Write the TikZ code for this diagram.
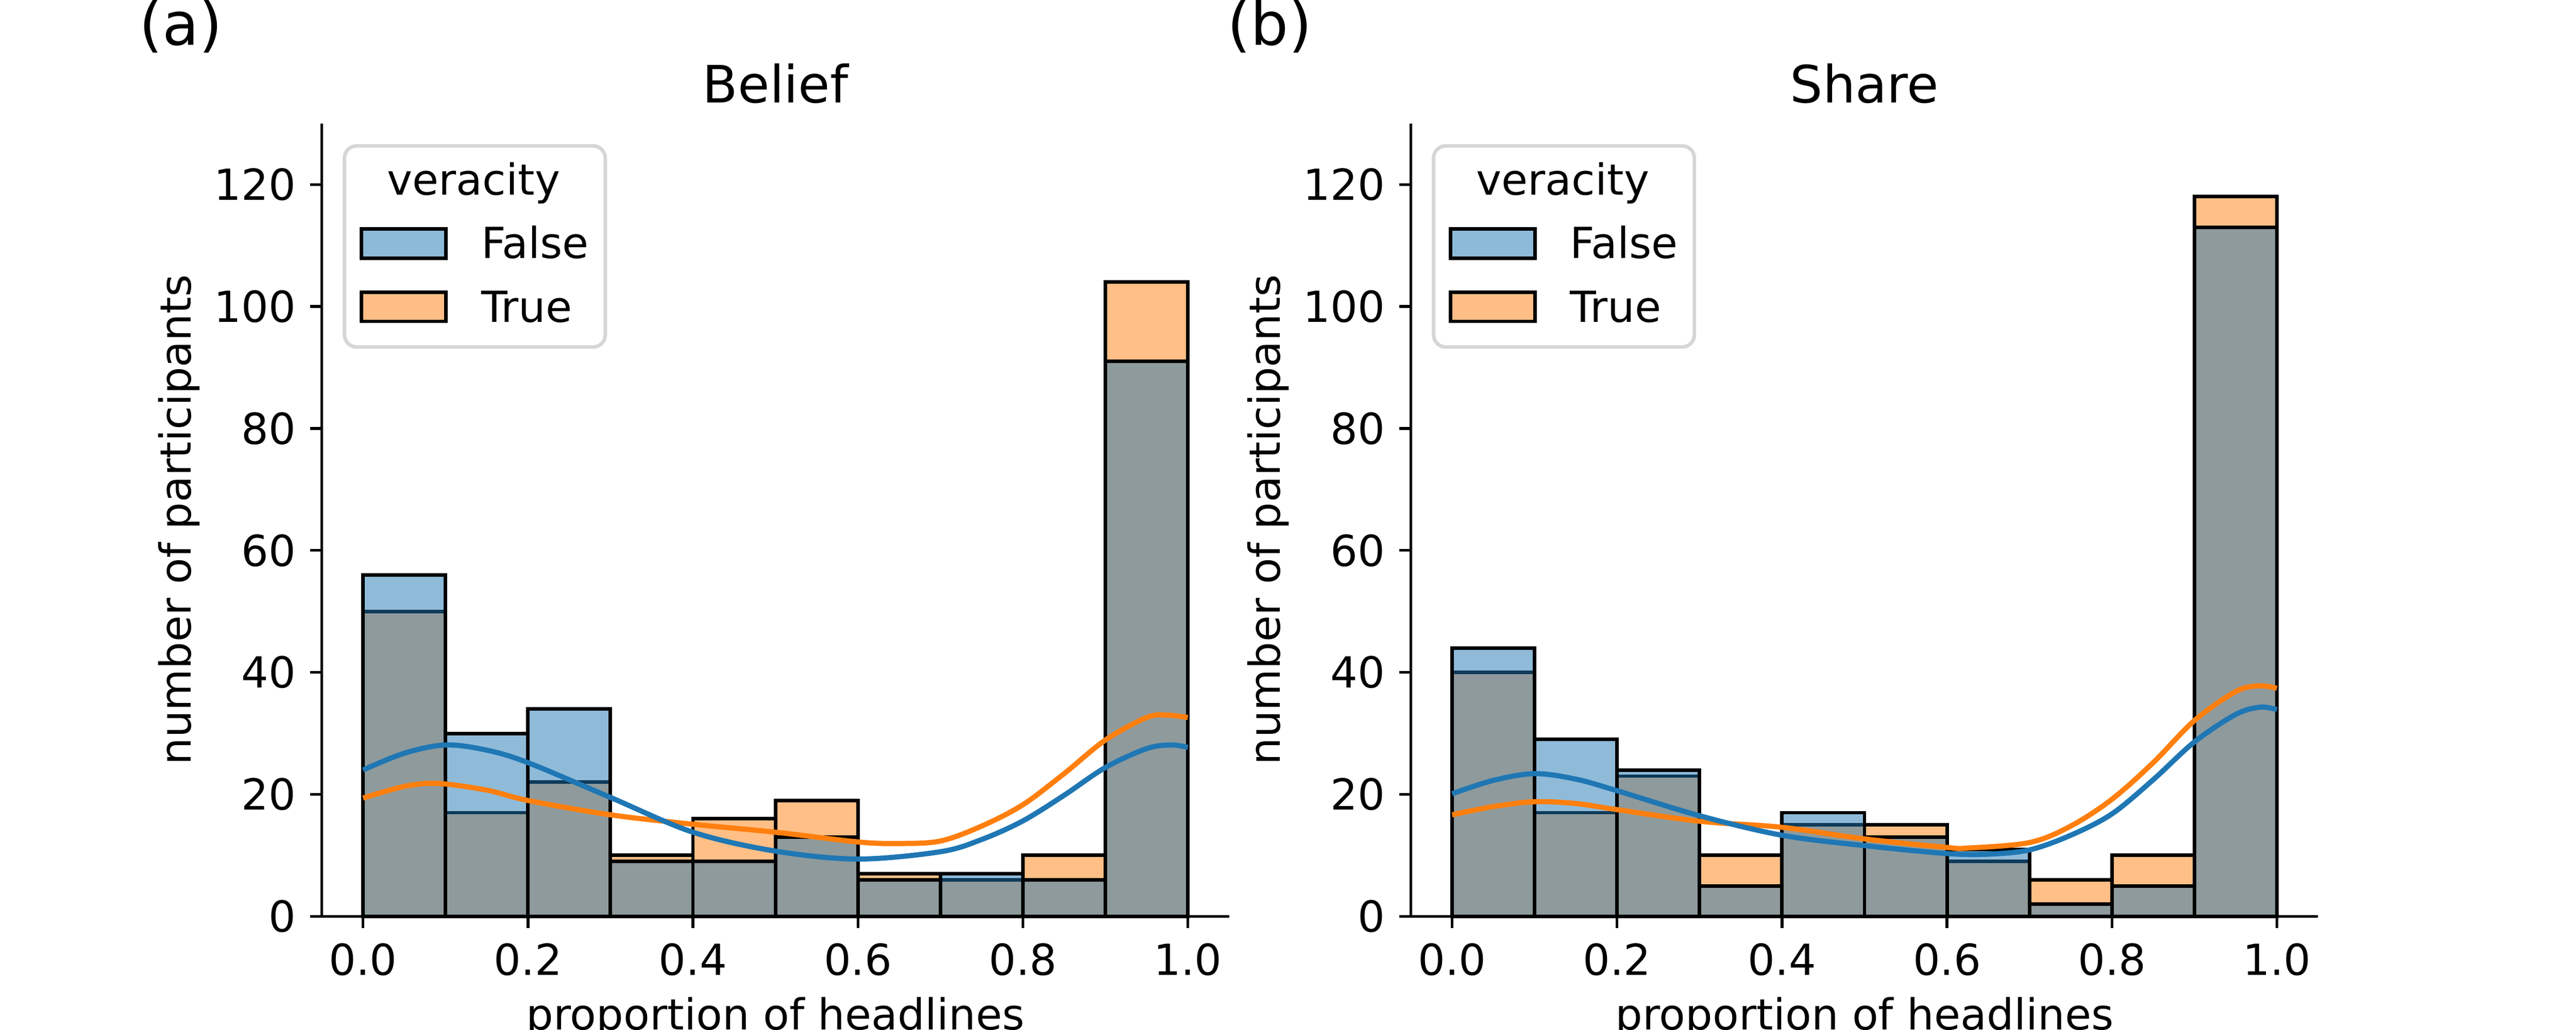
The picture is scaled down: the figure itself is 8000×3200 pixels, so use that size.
\documentclass[tikz,border=0pt]{standalone}
\usepackage{fontspec}
\setmainfont{DejaVu Sans}
\definecolor{tabblue}{HTML}{1F77B4}
\definecolor{taborange}{HTML}{FF7F0E}
\definecolor{legframe}{HTML}{D6D6D6}
\tikzset{
  falsebar/.style={draw=black, line width=1.1pt, fill=tabblue, fill opacity=0.5},
  truebar/.style={draw=black, line width=1.1pt, fill=taborange, fill opacity=0.5},
  kdefalse/.style={draw=tabblue, line width=1.6pt},
  kdetrue/.style={draw=taborange, line width=1.6pt},
  spine/.style={line width=0.85pt},
  legendframe/.style={draw=legframe, fill=white, line width=1.1pt, rounded corners=3.8pt},
  ticklabel/.style={inner sep=0pt, font=\fontsize{13.3}{16}\selectfont},
  titletext/.style={inner sep=0pt, font=\fontsize{16}{19}\selectfont},
  paneltext/.style={inner sep=0pt, font=\fontsize{18.5}{22}\selectfont}
}
\begin{document}
\begin{tikzpicture}[x=0.1pt, y=0.1pt]
    \useasboundingbox (0,0) rectangle (8000,3200);

    % (a) Belief
    \begin{scope}[shift={(112.76pt,35.3pt)}, x=256.14pt, y=1.895pt]
        \foreach \h [count=\i from 0] in {50,17,22,10,16,19,7,6,10,104}
            \draw[truebar] (\i/10,0) rectangle ({(\i+1)/10},\h);
        \foreach \h [count=\i from 0] in {56,30,34,9,9,13,6,7,6,91}
            \draw[falsebar] (\i/10,0) rectangle ({(\i+1)/10},\h);
        \draw[kdetrue] plot[smooth, tension=0.55] coordinates {(0,19.4) (0.05,21.3) (0.09,21.8) (0.15,20.7) (0.2,19.0) (0.3,16.65) (0.4,15.1) (0.5,13.8) (0.6,12.2) (0.65,11.95) (0.7,12.35) (0.75,14.8) (0.8,18.3) (0.85,23.4) (0.9,28.9) (0.95,32.6) (0.975,33.0) (1,32.6)};
        \draw[kdefalse] plot[smooth, tension=0.55] coordinates {(0,24.0) (0.05,26.75) (0.1,28.1) (0.15,27.25) (0.2,25.2) (0.3,19.5) (0.4,13.8) (0.5,10.7) (0.6,9.4) (0.7,10.6) (0.75,12.6) (0.8,15.65) (0.85,19.85) (0.9,24.4) (0.95,27.5) (0.98,28.1) (1,27.7)};

        \draw[spine] (-0.05,130) -- (-0.05,0) -- (1.05,0);
        \foreach \c in {0,20,...,120} {
            \draw[spine] (-0.05,\c) -- ++(-3.6pt,0);
            \node[ticklabel, anchor=east] (ya\c) at ([xshift=-7.9pt]-0.05,\c) {\c};
        }
        \foreach \t [count=\k] in {0.0,0.2,0.4,0.6,0.8,1.0} {
            \draw[spine] (\t,0) -- ++(0,-3.6pt);
            \node[ticklabel, anchor=north] (xa\k) at ([yshift=-8.25pt]\t,0) {\t};
        }

        \node[titletext, anchor=base] (titlea) at (0.5,133.4) {Belief};
        \node[paneltext, anchor=base] (labela) at (-0.2212,142.85) {(a)};
        \node[ticklabel, rotate=90, anchor=base] (ylaba) at (-0.2087,65) {number of participants};
        \node[ticklabel, anchor=base] (xlaba) at (0.5,-18.63) {proportion of headlines};

        \draw[legendframe] (-0.0225,93.35) rectangle (0.2937,126.33);
        \node[ticklabel, anchor=base] (legtitlea) at (0.1341,118.31) {veracity};
        \draw[falsebar] (-0.0022,107.92) rectangle (0.1005,112.72);
        \node[ticklabel, anchor=base west] (legfalsea) at (0.1425,107.86) {False};
        \draw[truebar] (-0.0022,97.56) rectangle (0.1005,102.33);
        \node[ticklabel, anchor=base west] (legtruea) at (0.1425,97.47) {True};
    \end{scope}

    % (b) Share
    \begin{scope}[shift={(451pt,35.3pt)}, x=256.14pt, y=1.895pt]
        \foreach \h [count=\i from 0] in {40,17,23,10,15,15,9,6,10,118}
            \draw[truebar] (\i/10,0) rectangle ({(\i+1)/10},\h);
        \foreach \h [count=\i from 0] in {44,29,24,5,17,13,11,2,5,113}
            \draw[falsebar] (\i/10,0) rectangle ({(\i+1)/10},\h);
        \draw[kdetrue] plot[smooth, tension=0.55] coordinates {(0,16.65) (0.05,18.0) (0.1,18.8) (0.15,18.5) (0.2,17.5) (0.3,15.6) (0.4,14.6) (0.5,12.7) (0.6,11.3) (0.625,11.2) (0.7,12.1) (0.75,14.8) (0.8,19.2) (0.85,25.2) (0.9,32.1) (0.95,36.85) (0.978,37.8) (1,37.4)};
        \draw[kdefalse] plot[smooth, tension=0.55] coordinates {(0,20.1) (0.05,22.3) (0.1,23.4) (0.15,22.5) (0.2,20.6) (0.3,16.5) (0.4,13.3) (0.5,11.6) (0.6,10.3) (0.65,10.2) (0.7,10.9) (0.75,13.3) (0.8,16.8) (0.85,22.4) (0.9,28.6) (0.95,33.1) (0.98,34.3) (1,33.9)};

        \draw[spine] (-0.05,130) -- (-0.05,0) -- (1.05,0);
        \foreach \c in {0,20,...,120} {
            \draw[spine] (-0.05,\c) -- ++(-3.6pt,0);
            \node[ticklabel, anchor=east] (yb\c) at ([xshift=-7.9pt]-0.05,\c) {\c};
        }
        \foreach \t [count=\k] in {0.0,0.2,0.4,0.6,0.8,1.0} {
            \draw[spine] (\t,0) -- ++(0,-3.6pt);
            \node[ticklabel, anchor=north] (xb\k) at ([yshift=-8.25pt]\t,0) {\t};
        }

        \node[titletext, anchor=base] (titleb) at (0.5,133.4) {Share};
        \node[paneltext, anchor=base] (labelb) at (-0.2212,142.85) {(b)};
        \node[ticklabel, rotate=90, anchor=base] (ylabb) at (-0.2087,65) {number of participants};
        \node[ticklabel, anchor=base] (xlabb) at (0.5,-18.63) {proportion of headlines};

        \draw[legendframe] (-0.0225,93.35) rectangle (0.2937,126.33);
        \node[ticklabel, anchor=base] (legtitleb) at (0.1341,118.31) {veracity};
        \draw[falsebar] (-0.0022,107.92) rectangle (0.1005,112.72);
        \node[ticklabel, anchor=base west] (legfalseb) at (0.1425,107.86) {False};
        \draw[truebar] (-0.0022,97.56) rectangle (0.1005,102.33);
        \node[ticklabel, anchor=base west] (legtrueb) at (0.1425,97.47) {True};
    \end{scope}
\end{tikzpicture}
\end{document}
